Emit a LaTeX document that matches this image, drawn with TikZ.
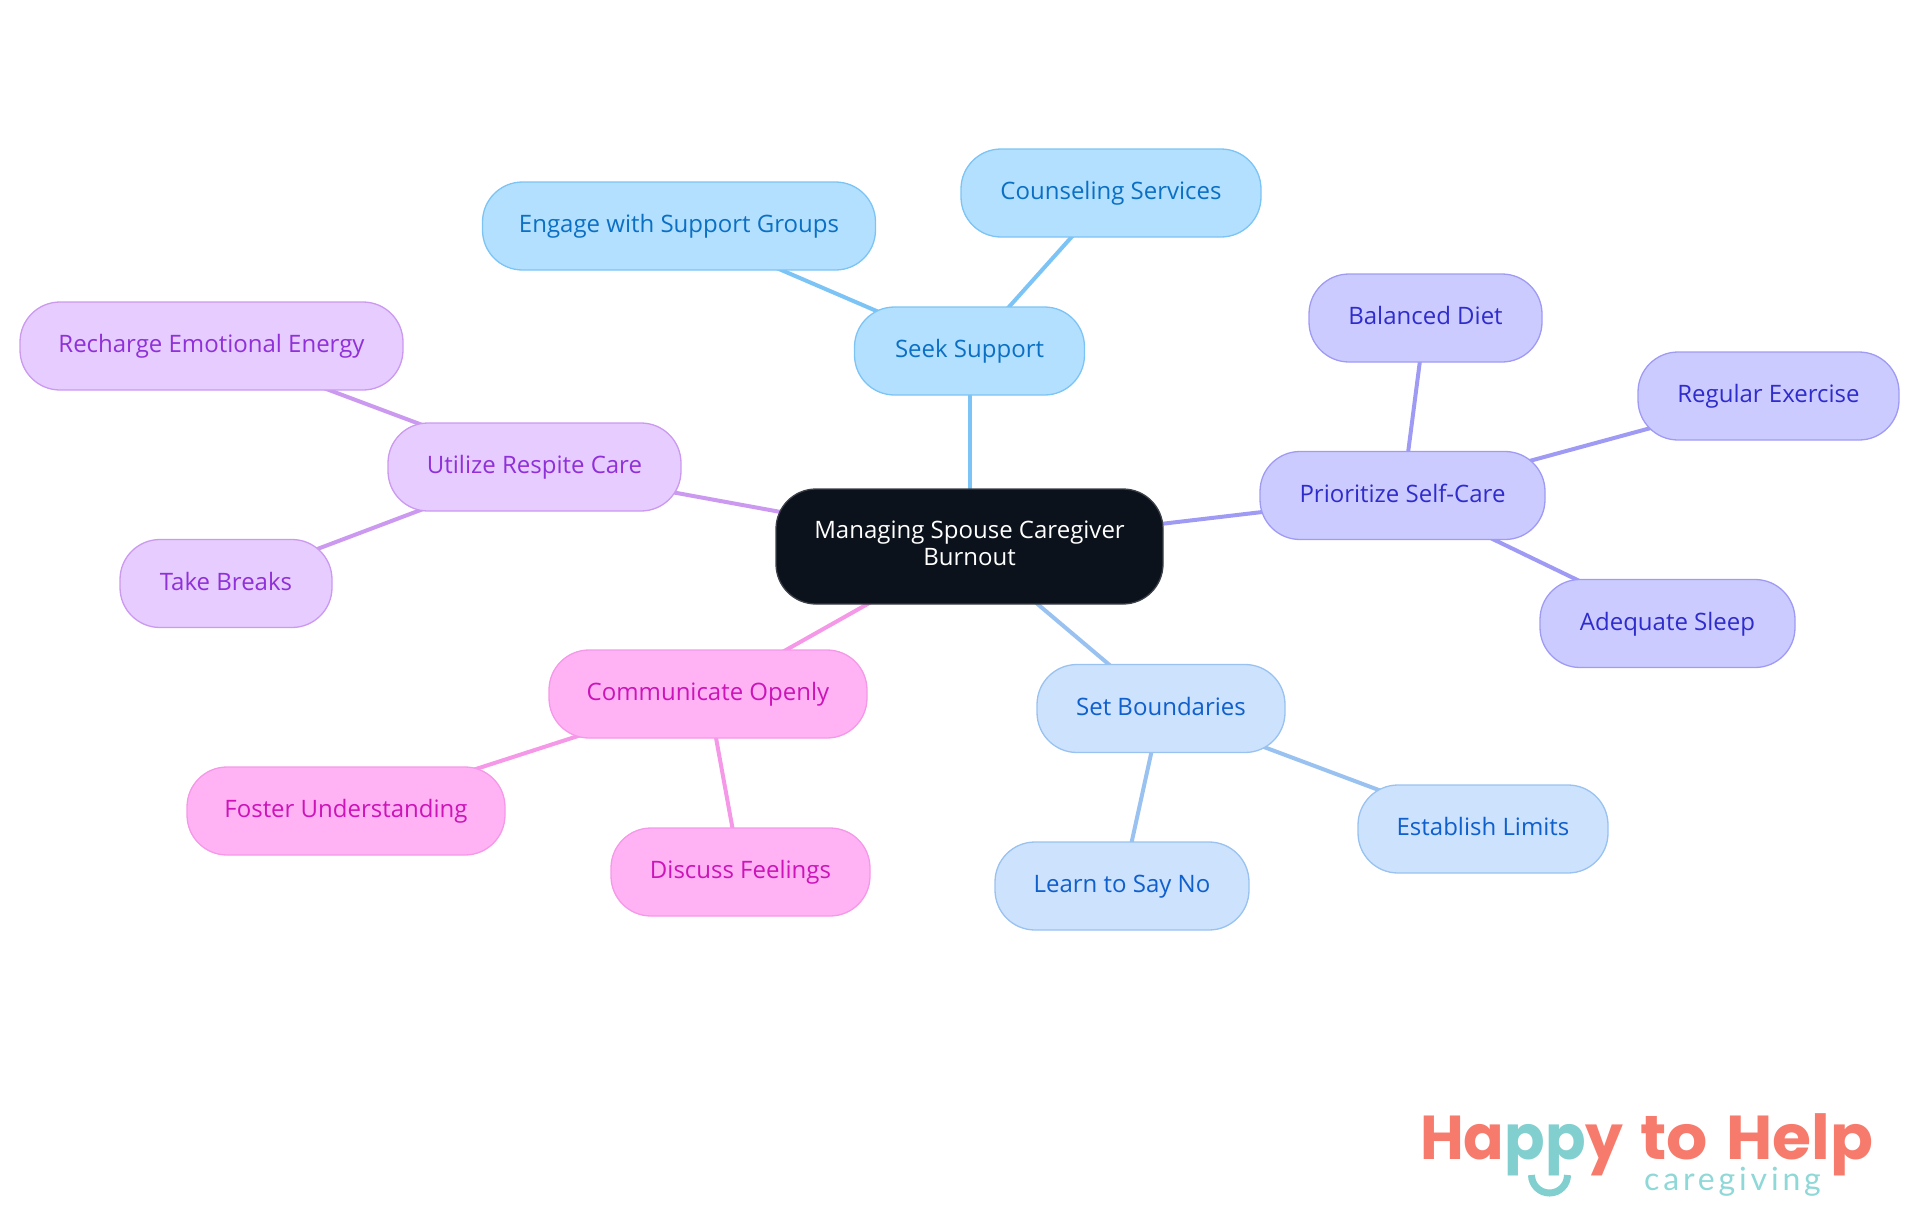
\documentclass[tikz,border=0pt]{standalone}
\usepackage{fontspec}
\setmainfont{Open Sans}
\newfontfamily\logofont{Poppins}
\newfontfamily\logotag{Lato}[LetterSpace=12]
\usetikzlibrary{backgrounds}
\definecolor{rootfill}{HTML}{0B121B}
\definecolor{sF}{HTML}{B3E0FF}\definecolor{sD}{HTML}{7CC4F5}\definecolor{sT}{HTML}{0B70C4}
\definecolor{pF}{HTML}{CCCBFF}\definecolor{pD}{HTML}{9F9BF5}\definecolor{pT}{HTML}{2F2CCC}
\definecolor{bF}{HTML}{CCE2FD}\definecolor{bD}{HTML}{99C2F0}\definecolor{bT}{HTML}{0F5FCC}
\definecolor{mF}{HTML}{FFB3F5}\definecolor{mD}{HTML}{F598E8}\definecolor{mT}{HTML}{CC14B8}
\definecolor{vF}{HTML}{E6CCFF}\definecolor{vD}{HTML}{CC99F0}\definecolor{vT}{HTML}{9030D8}
\definecolor{logoC}{HTML}{F77B6D}\definecolor{logoT}{HTML}{82CFCF}\definecolor{logoS}{HTML}{8FD8D8}
\tikzset{
 x=1pt,y=-1pt,
 box/.style n args={3}{draw=#2,fill=#1,text=#3,line width=1.3pt,rounded corners=40pt,minimum height=88pt,inner sep=0pt,align=center,font=\fontsize{24}{27}\selectfont},
 sbox/.style={box={sF}{sD}{sT}},
 pbox/.style={box={pF}{pD}{pT}},
 bbox/.style={box={bF}{bD}{bT}},
 mbox/.style={box={mF}{mD}{mT}},
 vbox/.style={box={vF}{vD}{vT}},
 link/.style={line width=4pt},
 logoword/.style={anchor=base west,inner sep=0pt,font=\logofont\bfseries\fontsize{62}{62}\selectfont,text=logoC},
}
\newcommand{\lbl}[1]{\raisebox{0pt}[18pt][4.6pt]{#1}}
\begin{document}
\begin{tikzpicture}
\useasboundingbox (0,0) rectangle (1920,1215);
\node[draw=rootfill!80!white,fill=rootfill,text=white,line width=1.3pt,rounded corners=40pt,minimum width=387pt,minimum height=115pt,inner sep=0pt,align=center,font=\fontsize{24}{27}\selectfont] (root) at (969.5,546.5) {\raisebox{0pt}[18pt][33.6pt]{\parbox[t]{380pt}{\centering Managing Spouse Caregiver\\ Burnout}}};
\node[sbox,minimum width=230pt] (seek) at (969.5,351) {\lbl{Seek Support}};
\node[sbox,minimum width=393pt] (engage) at (679,226) {\lbl{Engage with Support Groups}};
\node[sbox,minimum width=300pt] (couns) at (1111,193) {\lbl{Counseling Services}};
\node[pbox,minimum width=285pt] (prior) at (1402.5,495.5) {\lbl{Prioritize Self-Care}};
\node[pbox,minimum width=233pt] (diet) at (1425.5,318) {\lbl{Balanced Diet}};
\node[pbox,minimum width=261pt] (exer) at (1768.5,396) {\lbl{Regular Exercise}};
\node[pbox,minimum width=255pt] (sleep) at (1667.5,623.5) {\lbl{Adequate Sleep}};
\node[bbox,minimum width=248pt] (bound) at (1161,708.5) {\lbl{Set Boundaries}};
\node[bbox,minimum width=250pt] (limits) at (1483,829) {\lbl{Establish Limits}};
\node[bbox,minimum width=254pt] (sayno) at (1122,886) {\lbl{Learn to Say No}};
\node[mbox,minimum width=318pt] (comm) at (708,694) {\lbl{Communicate Openly}};
\node[mbox,minimum width=318pt] (foster) at (346,811) {\lbl{Foster Understanding}};
\node[mbox,minimum width=259pt] (disc) at (740.5,872) {\lbl{Discuss Feelings}};
\node[vbox,minimum width=293pt] (resp) at (534.5,467) {\lbl{Utilize Respite Care}};
\node[vbox,minimum width=383pt] (rech) at (211.5,346) {\lbl{Recharge Emotional Energy}};
\node[vbox,minimum width=212pt] (take) at (226,583.5) {\lbl{Take Breaks}};
\begin{scope}[on background layer]
\draw[link,sD] (root.center) -- (seek.center);
\draw[link,sD] (seek.center) -- (engage.center);
\draw[link,sD] (seek.center) -- (couns.center);
\draw[link,pD] (root.center) -- (prior.center);
\draw[link,pD] (prior.center) -- (diet.center);
\draw[link,pD] (prior.center) -- (exer.center);
\draw[link,pD] (prior.center) -- (sleep.center);
\draw[link,bD] (root.center) -- (bound.center);
\draw[link,bD] (bound.center) -- (limits.center);
\draw[link,bD] (bound.center) -- (sayno.center);
\draw[link,mD] (root.center) -- (comm.center);
\draw[link,mD] (comm.center) -- (foster.center);
\draw[link,mD] (comm.center) -- (disc.center);
\draw[link,vD] (root.center) -- (resp.center);
\draw[link,vD] (resp.center) -- (rech.center);
\draw[link,vD] (resp.center) -- (take.center);
\end{scope}
\node[logoword] (logoa) at (1420,1159) {\scalebox{0.965}[1]{Ha\textcolor{logoT}{pp}y}};
\node[logoword] (logob) at (1640,1159) {\scalebox{1.045}[1]{to}};
\node[logoword] (logoc) at (1726,1159) {\scalebox{1.02}[1]{Help}};
\node[anchor=base west,inner sep=0pt,font=\logotag\fontsize{32}{32}\selectfont,text=logoS] (tag) at (1644,1190) {caregiving};
\draw[logoT,line width=7pt] (1531.5,1175) arc[start angle=180,end angle=0,radius=18];
\end{tikzpicture}
\end{document}
